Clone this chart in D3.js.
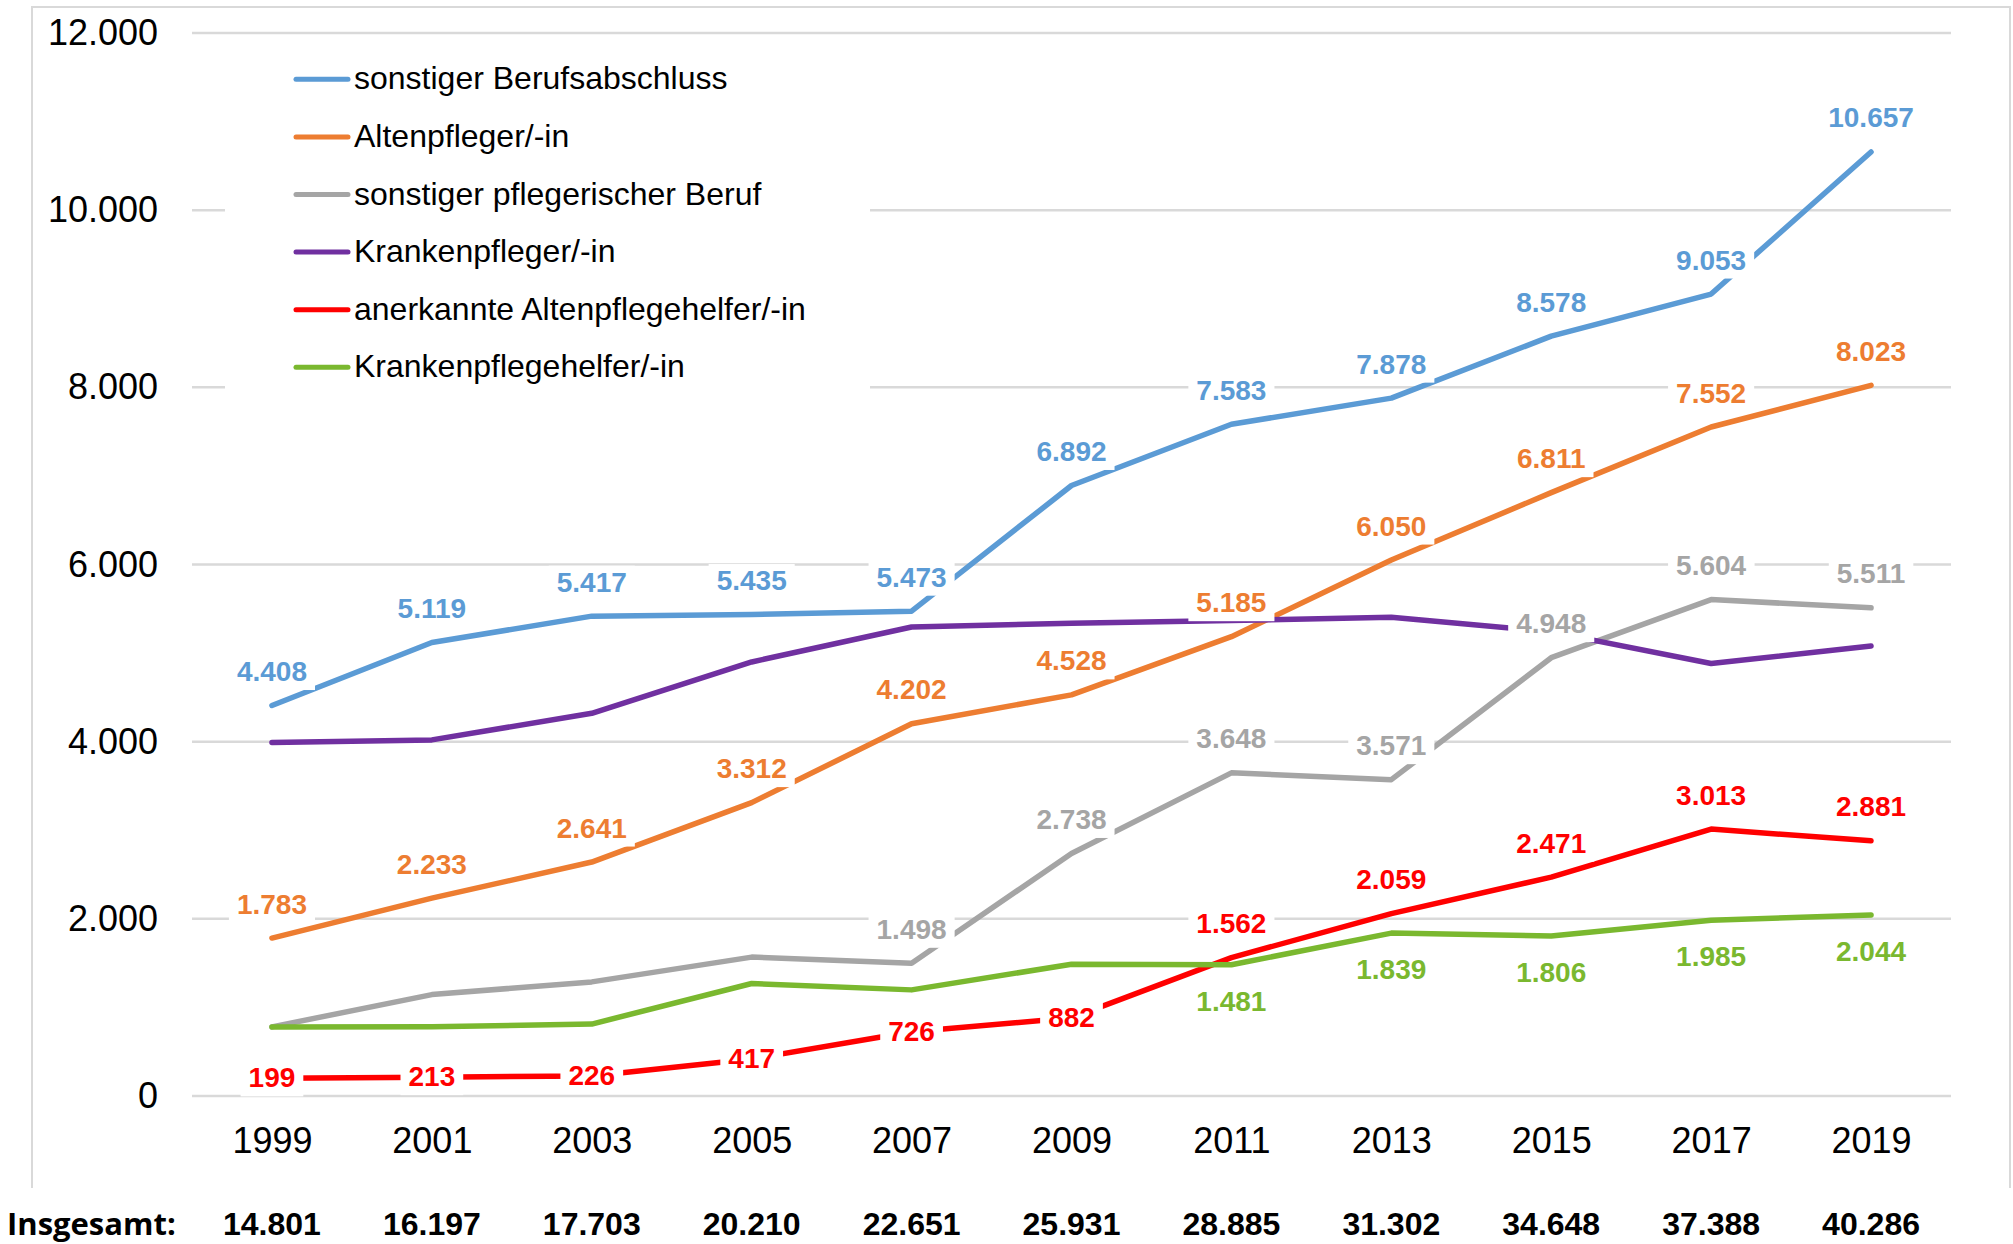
<!DOCTYPE html>
<html>
<head>
<meta charset="utf-8">
<script src="https://cdn.jsdelivr.net/npm/d3@7"></script>
<style>
  body { margin: 0; background: #fff; }
  svg text { font-family: "Liberation Sans", Arial, sans-serif; }
</style>
</head>
<body>
<script>
var years = ["1999", "2001", "2003", "2005", "2007", "2009", "2011", "2013", "2015", "2017", "2019"];

var seriesNames = ["sonstiger Berufsabschluss", "Altenpfleger/-in", "sonstiger pflegerischer Beruf",
	"Krankenpfleger/-in", "anerkannte Altenpflegehelfer/-in", "Krankenpflegehelfer/-in"];

var sonstigerAbschluss = [4408, 5119, 5417, 5435, 5473, 6892, 7583, 7878, 8578, 9053, 10657];
var altenpfleger = [1783, 2233, 2641, 3312, 4202, 4528, 5185, 6050, 6811, 7552, 8023];
var sonstigerPflege = [780, 1145, 1288, 1568, 1498, 2738, 3648, 3571, 4948, 5604, 5511];
var krankenpfleger = [3990, 4020, 4320, 4900, 5295, 5338, 5368, 5405, 5240, 4882, 5080];
var altenpflegehelfer = [199, 213, 226, 417, 726, 882, 1562, 2059, 2471, 3013, 2881];
var krankenpflegehelfer = [780, 782, 812, 1270, 1198, 1488, 1481, 1839, 1806, 1985, 2044];

var insgesamt = [14801, 16197, 17703, 20210, 22651, 25931, 28885, 31302, 34648, 37388, 40286];

var yTicks = [0, 2000, 4000, 6000, 8000, 10000, 12000];

// where the value labels sit: a = above, c = on the line, b = below, "" = none
var labelPos = [
	["a", "a", "a", "a", "a", "a", "a", "a", "a", "a", "a"],
	["a", "a", "a", "a", "a", "a", "a", "a", "a", "a", "a"],
	["", "", "", "", "a", "a", "a", "a", "a", "a", "a"],
	["", "", "", "", "", "", "", "", "", "", ""],
	["c", "c", "c", "c", "c", "c", "a", "a", "a", "a", "a"],
	["", "", "", "", "", "", "b", "b", "b", "b", "b"]
];

var colors = ["#5B9BD5", "#ED7D31", "#A5A5A5", "#7030A0", "#FF0000", "#7AB82F"];

var allSeries = [sonstigerAbschluss, altenpfleger, sonstigerPflege, krankenpfleger, altenpflegehelfer, krankenpflegehelfer];

var width = 2013, height = 1244;
var de = d3.formatLocale({ decimal: ",", thousands: ".", grouping: [3], currency: ["", " €"] });
var fmt = de.format(",d");

var svg = d3.select("body").append("svg")
	.attr("width", width)
	.attr("height", height);

var x = d3.scalePoint().domain(years).range([192, 1951]).padding(0.5);
var y = d3.scaleLinear().domain([0, 12000]).range([1096, 33]);

// frame (no bottom edge)
svg.append("path")
	.attr("d", "M32,1188 L32,7 L2010,7 L2010,1188")
	.attr("fill", "none")
	.attr("stroke", "#D9D9D9")
	.attr("stroke-width", 2);

// gridlines
svg.selectAll(".grid")
	.data(yTicks)
	.enter().append("line")
	.attr("class", "grid")
	.attr("x1", 192).attr("x2", 1951)
	.attr("y1", function (d) { return y(d) })
	.attr("y2", function (d) { return y(d) })
	.attr("stroke", "#D9D9D9")
	.attr("stroke-width", 2.5);

// y axis
var yAxis = svg.append("g")
	.attr("transform", "translate(158,0)")
	.call(d3.axisLeft(y).tickValues(yTicks).tickFormat(fmt).tickSize(0).tickPadding(0));
yAxis.select(".domain").remove();
yAxis.selectAll("text")
	.attr("font-size", 36)
	.attr("fill", "#000")
	.style("font-family", "'Liberation Sans', Arial, sans-serif");

// x axis
var xAxis = svg.append("g")
	.attr("transform", "translate(0,1096)")
	.call(d3.axisBottom(x).tickSize(0).tickPadding(31));
xAxis.select(".domain").remove();
xAxis.selectAll("text")
	.attr("font-size", 36)
	.attr("fill", "#000")
	.style("font-family", "'Liberation Sans', Arial, sans-serif");

// lines
var line = d3.line()
	.x(function (d, i) { return x(years[i]) })
	.y(function (d) { return y(d) });

svg.selectAll(".series")
	.data(allSeries)
	.enter().append("path")
	.attr("class", "series")
	.attr("d", function (d) { return line(d) })
	.attr("fill", "none")
	.attr("stroke", function (d, i) { return colors[i] })
	.attr("stroke-width", 5.5)
	.attr("stroke-linejoin", "round")
	.attr("stroke-linecap", "round");

// value labels with white boxes
var labels = [];
allSeries.forEach(function (s, si) {
	s.forEach(function (v, i) {
		var p = labelPos[si][i];
		if (!p) return;
		var base = y(v) + (p === "a" ? -24.5 : p === "b" ? 46 : 9);
		labels.push({ x: x(years[i]), y: base, v: v, c: colors[si] });
	});
});

var lg = svg.selectAll(".lbl")
	.data(labels)
	.enter().append("g")
	.attr("class", "lbl");

lg.append("text")
	.attr("x", function (d) { return d.x })
	.attr("y", function (d) { return d.y })
	.attr("text-anchor", "middle")
	.attr("font-size", 28)
	.attr("font-weight", "bold")
	.attr("fill", function (d) { return d.c })
	.text(function (d) { return fmt(d.v) });

lg.each(function () {
	var g = d3.select(this);
	var bb = g.select("text").node().getBBox();
	g.insert("rect", "text")
		.attr("x", bb.x - 8)
		.attr("y", bb.y - 1)
		.attr("width", bb.width + 16)
		.attr("height", bb.height + 4)
		.attr("fill", "#fff");
});

// legend
var legend = svg.append("g");
legend.append("rect")
	.attr("x", 225).attr("y", 45)
	.attr("width", 645).attr("height", 355)
	.attr("fill", "#fff");

var li = legend.selectAll(".li")
	.data(seriesNames)
	.enter().append("g")
	.attr("class", "li")
	.attr("transform", function (d, i) { return "translate(0," + (79.3 + i * 57.6) + ")" });

li.append("line")
	.attr("x1", 296).attr("x2", 348)
	.attr("stroke", function (d, i) { return colors[i] })
	.attr("stroke-width", 5)
	.attr("stroke-linecap", "round");

li.append("text")
	.attr("x", 354)
	.attr("y", 10)
	.attr("font-size", 32)
	.attr("fill", "#000")
	.text(function (d) { return d });

// totals row
svg.append("text")
	.attr("x", 7)
	.attr("y", 1235)
	.attr("font-size", 31)
	.attr("font-weight", "bold")
	.attr("fill", "#000")
	.style("font-family", "'Open Sans', sans-serif")
	.text("Insgesamt:");

svg.selectAll(".tot")
	.data(insgesamt)
	.enter().append("text")
	.attr("class", "tot")
	.attr("x", function (d, i) { return x(years[i]) })
	.attr("y", 1235)
	.attr("text-anchor", "middle")
	.attr("font-size", 32)
	.attr("font-weight", "bold")
	.attr("fill", "#000")
	.text(function (d) { return fmt(d) });
</script>
</body>
</html>
